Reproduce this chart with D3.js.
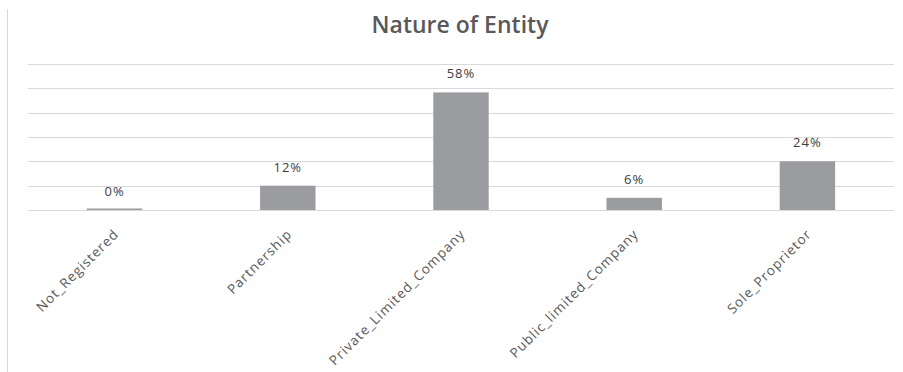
<!DOCTYPE html>
<html>
<head>
<meta charset="utf-8">
<script src="https://cdn.jsdelivr.net/npm/d3@7"></script>
<style>
  html, body { margin: 0; padding: 0; background: #fff; }
  svg { display: block; }
</style>
</head>
<body>
<div id="chart"></div>
<script>
// Share of respondents by legal nature of entity (%)
const categories = ["Not_Registered", "Partnership", "Private_Limited_Company", "Public_limited_Company", "Sole_Proprietor"];
const shares = [0, 12, 58, 6, 24];
const gridTicks = [0, 12, 24, 36, 48, 60, 72];
const chartTitle = "Nature of Entity";

const width = 903, height = 372;
const margin = { top: 64, right: 9, bottom: 162, left: 28 };

const svg = d3.select("#chart").append("svg")
  .attr("width", width)
  .attr("height", height);

// thin frame edge on the left
svg.append("line")
  .attr("x1", 7.5).attr("x2", 7.5)
  .attr("y1", 9).attr("y2", height)
  .attr("stroke", "#d9d9d9").attr("stroke-width", 1);

const x = d3.scaleBand()
  .domain(categories)
  .range([margin.left, width - margin.right])
  .paddingInner(0.68)
  .paddingOuter(0.34);

const y = d3.scaleLinear()
  .domain([0, 72])
  .range([height - margin.bottom, margin.top]);

// horizontal gridlines
svg.append("g")
  .selectAll("line")
  .data(gridTicks)
  .join("line")
  .attr("x1", margin.left).attr("x2", width - margin.right)
  .attr("y1", d => Math.round(y(d)) + 0.5)
  .attr("y2", d => Math.round(y(d)) + 0.5)
  .attr("stroke", "#d9d9d9").attr("stroke-width", 1.2);

// bars
svg.append("g")
  .selectAll("rect")
  .data(shares)
  .join("rect")
  .attr("x", (d, i) => x(categories[i]))
  .attr("width", x.bandwidth())
  .attr("y", d => Math.min(y(d), y(0) - 1.5))
  .attr("height", d => Math.max(y(0) - y(d), 1.5))
  .attr("fill", "#9b9c9f");

// value labels
svg.append("g")
  .selectAll("text")
  .data(shares)
  .join("text")
  .attr("x", (d, i) => x(categories[i]) + x.bandwidth() / 2)
  .attr("y", d => y(d) - 14)
  .attr("text-anchor", "middle")
  .attr("font-family", "'Open Sans', sans-serif")
  .attr("font-size", 13)
  .attr("letter-spacing", 1)
  .attr("fill", "#404040")
  .text(d => d + "%");

// rotated category labels
const xAxis = d3.axisBottom(x).tickSize(0).tickPadding(0);
const gx = svg.append("g")
  .attr("transform", `translate(0,${y(0)})`)
  .call(xAxis);
gx.select(".domain").remove();
gx.selectAll(".tick text")
  .attr("font-family", "'Open Sans', sans-serif")
  .attr("font-size", 13.5)
  .attr("letter-spacing", 1)
  .attr("fill", "#595959")
  .attr("text-anchor", "end")
  .attr("dy", 0)
  .attr("transform", "translate(5,25) rotate(-45)");

// title
svg.append("text")
  .attr("x", 460)
  .attr("y", 33)
  .attr("text-anchor", "middle")
  .attr("font-family", "'Open Sans', sans-serif")
  .attr("font-size", 23)
  .attr("font-weight", 600)
  .attr("fill", "#595959")
  .text(chartTitle);
</script>
</body>
</html>
